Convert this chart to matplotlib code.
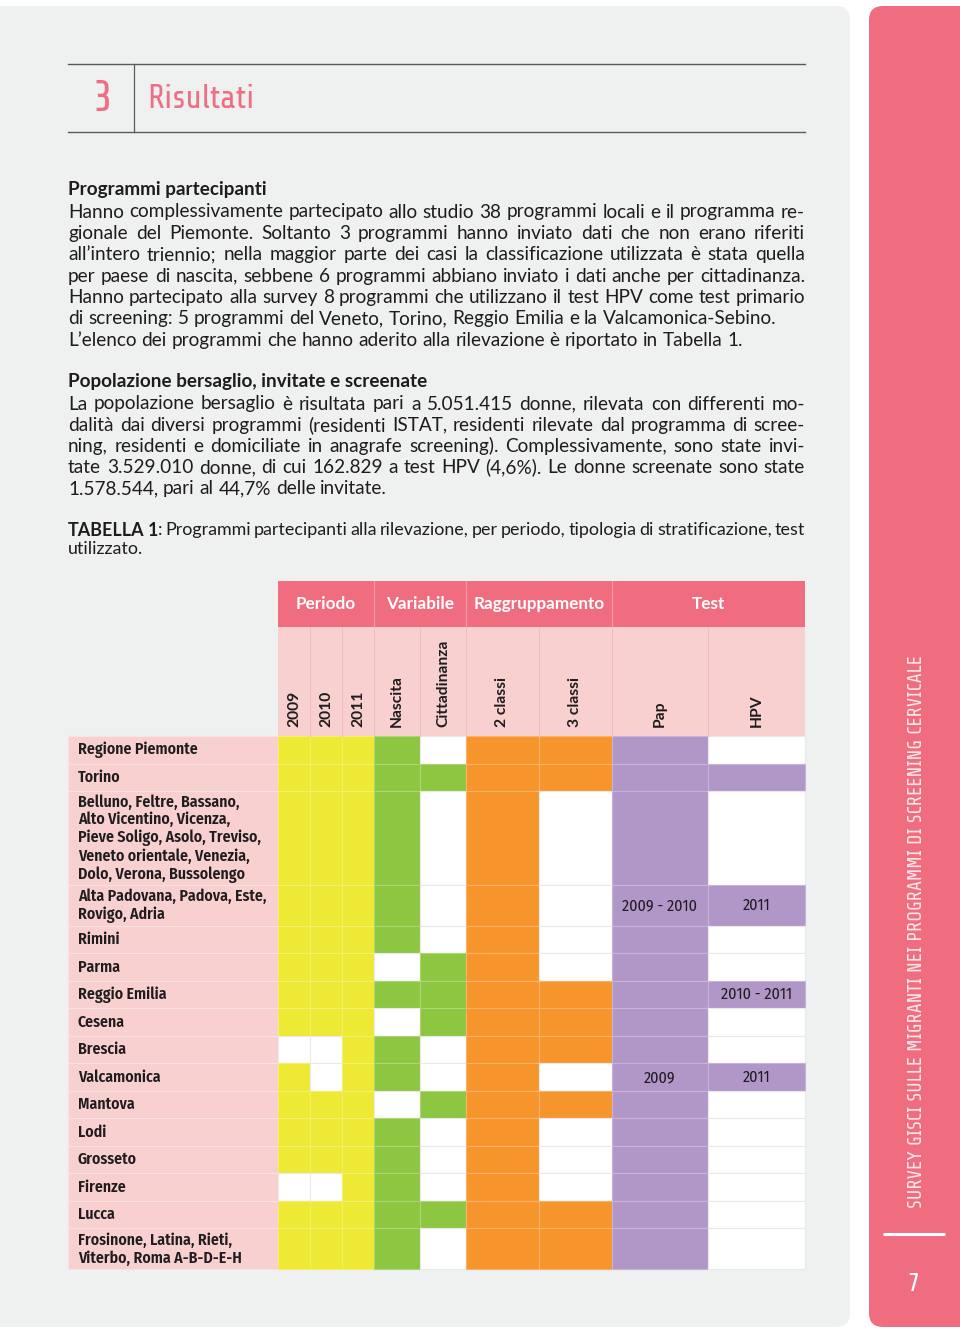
import matplotlib
matplotlib.use("Agg")
import matplotlib.pyplot as plt
import matplotlib.colors as mcolors
from matplotlib.patches import Rectangle, FancyBboxPatch

# ---- data -------------------------------------------------------------
para1 = [
    "Hanno complessivamente partecipato allo studio 38 programmi locali e il programma re-",
    "gionale del Piemonte. Soltanto 3 programmi hanno inviato dati che non erano riferiti",
    "all’intero triennio; nella maggior parte dei casi la classificazione utilizzata è stata quella",
    "per paese di nascita, sebbene 6 programmi abbiano inviato i dati anche per cittadinanza.",
    "Hanno partecipato alla survey 8 programmi che utilizzano il test HPV come test primario",
    "di screening: 5 programmi del Veneto, Torino, Reggio Emilia e la Valcamonica-Sebino.",
    "L’elenco dei programmi che hanno aderito alla rilevazione è riportato in Tabella 1.",
]
para1_justify = [1, 1, 1, 1, 1, 0, 0]

para2 = [
    "La popolazione bersaglio è risultata pari a 5.051.415 donne, rilevata con differenti mo-",
    "dalità dai diversi programmi (residenti ISTAT, residenti rilevate dal programma di scree-",
    "ning, residenti e domiciliate in anagrafe screening). Complessivamente, sono state invi-",
    "tate 3.529.010 donne, di cui 162.829 a test HPV (4,6%). Le donne screenate sono state",
    "1.578.544, pari al 44,7% delle invitate.",
]
para2_justify = [1, 1, 1, 1, 0]

caption = [
    "**TABELLA 1**: Programmi partecipanti alla rilevazione, per periodo, tipologia di stratificazione, test",
    "utilizzato.",
]
caption_justify = [1, 0]

programmi = [
    "Regione Piemonte",
    "Torino",
    "Belluno, Feltre, Bassano,\nAlto Vicentino, Vicenza,\nPieve Soligo, Asolo, Treviso,\nVeneto orientale, Venezia,\nDolo, Verona, Bussolengo",
    "Alta Padovana, Padova, Este,\nRovigo, Adria",
    "Rimini",
    "Parma",
    "Reggio Emilia",
    "Cesena",
    "Brescia",
    "Valcamonica",
    "Mantova",
    "Lodi",
    "Grosseto",
    "Firenze",
    "Lucca",
    "Frosinone, Latina, Rieti,\nViterbo, Roma A-B-D-E-H",
]

gruppi = ["Periodo", "Variabile", "Raggruppamento", "Test"]
colonne = [["2009", "2010", "2011"], ["Nascita", "Cittadinanza"],
           ["2 classi", "3 classi"], ["Pap", "HPV"]]

periodo = [[1, 1, 1], [1, 1, 1], [1, 1, 1], [1, 1, 1], [1, 1, 1], [1, 1, 1],
           [1, 1, 1], [1, 1, 1], [0, 0, 1], [1, 0, 1], [1, 1, 1], [1, 1, 1],
           [1, 1, 1], [0, 0, 1], [1, 1, 1], [1, 1, 1]]
variabile = [[1, 0], [1, 1], [1, 0], [1, 0], [1, 0], [0, 1], [1, 1], [0, 1],
             [1, 0], [1, 0], [0, 1], [1, 0], [1, 0], [1, 0], [1, 1], [1, 0]]
raggruppamento = [[1, 1], [1, 1], [1, 0], [1, 0], [1, 0], [1, 0], [1, 1], [1, 1],
                  [1, 1], [1, 0], [1, 1], [1, 0], [1, 0], [1, 0], [1, 1], [1, 1]]
test = [[1, 0], [1, 1], [1, 0], [1, 1], [1, 0], [1, 0], [1, 1], [1, 0],
        [1, 0], [1, 1], [1, 0], [1, 0], [1, 0], [1, 0], [1, 0], [1, 0]]
pap_note = ["", "", "", "2009 - 2010", "", "", "", "", "", "2009", "", "", "", "", "", ""]
hpv_note = ["", "", "", "2011", "", "", "2010 - 2011", "", "", "2011", "", "", "", "", "", ""]

# ---- style ------------------------------------------------------------
PINK = "#f06d80"
LIGHT_PINK = "#f9d0d0"
GREY = "#eff0f0"
group_colors = ["#eee934", "#8dc641", "#f7952d", "#b197c8"]
BODY = ["Lato", "Open Sans", "DejaVu Sans"]
COND = ["Fira Sans Condensed", "Roboto Condensed", "DejaVu Sans"]
TECH = ["Share Tech", "Advent Pro", "DejaVu Sans"]
TXT = "#1f1c1d"

fig = plt.figure(figsize=(9.6, 13.32), dpi=100, facecolor="white")
ax = fig.add_axes([0, 0, 1, 1])
ax.set_xlim(0, 960)
ax.set_ylim(1332, 0)
ax.axis("off")
r = fig.canvas.get_renderer()


def width_of(s, size, family, weight="normal"):
    t = ax.text(0, 0, s, fontsize=size, family=family, weight=weight)
    w = t.get_window_extent(renderer=r).width
    t.remove()
    return w


def fit(s, target, family, weight="normal"):
    return 12 * target / width_of(s, 12, family, weight)


def parse(line):
    words, bold = [], False
    for w in line.split(" "):
        pieces = []
        for i, part in enumerate(w.split("**")):
            if i > 0:
                bold = not bold
            if part:
                pieces.append((part, bold))
        words.append(pieces)
    return words


def put_line(line, x0, x1, y, size, justify):
    items, widths = [], []
    for w in parse(line):
        ws = []
        for s, b in w:
            t = ax.text(0, y, s, fontsize=size, family=BODY, color=TXT,
                        weight="bold" if b else "normal", va="center", ha="left")
            ws.append((t, t.get_window_extent(renderer=r).width))
        items.append(ws)
        widths.append(sum(wd for _, wd in ws))
    space = width_of("n n", size, BODY) - width_of("nn", size, BODY)
    gap = space
    if justify and len(items) > 1:
        gap = (x1 - x0 - sum(widths)) / (len(items) - 1)
    x = x0
    for ws in items:
        for t, wd in ws:
            t.set_x(x)
            x += wd
        x += gap


# ---- page background --------------------------------------------------
ax.add_patch(FancyBboxPatch((-40, 6), 890, 1321, boxstyle="round,pad=0,rounding_size=14",
                            fc=GREY, ec="none"))
ax.add_patch(FancyBboxPatch((869, 6), 140, 1321, boxstyle="round,pad=0,rounding_size=14",
                            fc=PINK, ec="none"))

# chapter header
ax.plot([68, 805], [64, 64], color="#5a5a5a", lw=1.0)
ax.plot([68, 805], [132, 132], color="#5a5a5a", lw=1.0)
ax.plot([134, 134], [64, 132], color="#5a5a5a", lw=0.9)
title_size = fit("Risultati", 107, TECH)
ax.text(102, 99, "3", fontsize=title_size * 1.3, family=TECH,
        color="#ee6f83", ha="center", va="center")
ax.text(147, 99, "Risultati", fontsize=title_size, family=TECH,
        color="#ee6f83", ha="left", va="center")

# side bar
side = "SURVEY GISCI SULLE MIGRANTI NEI PROGRAMMI DI SCREENING CERVICALE"
ax.text(916, 1208, side, fontsize=fit(side, 553, TECH), family=TECH, color="#fde8ea",
        rotation=90, rotation_mode="anchor", ha="left", va="center")
ax.plot([883, 945], [1234, 1234], color="white", lw=2.2, solid_capstyle="butt")
ax.text(913, 1284, "7", fontsize=19, family=TECH, color="white", ha="center", va="center")

# ---- body text --------------------------------------------------------
X0, X1 = 68, 805
body_size = fit(para1[5], 709, BODY)
head_size = fit("Programmi partecipanti", 197, BODY, "bold")
ax.text(X0, 190, "Programmi partecipanti", fontsize=head_size, family=BODY, weight="bold",
        color=TXT, va="center", ha="left")
for i, (ln, j) in enumerate(zip(para1, para1_justify)):
    put_line(ln, X0, X1, 212 + i * 21.35, body_size, j)

ax.text(X0, 382, "Popolazione bersaglio, invitate e screenate", fontsize=head_size,
        family=BODY, weight="bold", color=TXT, va="center", ha="left")
for i, (ln, j) in enumerate(zip(para2, para2_justify)):
    put_line(ln, X0, X1, 404 + i * 21.2, body_size, j)

cap_size = fit("utilizzato.", 75, BODY)
for i, (ln, j) in enumerate(zip(caption, caption_justify)):
    put_line(ln, X0, X1, 530 + i * 19.5, cap_size, j)

# ---- table ------------------------------------------------------------
col_w = [32, 32, 32, 46, 46, 72.5, 73, 96.5, 97]
TX0 = 278
edges = [TX0]
for w in col_w:
    edges.append(edges[-1] + w)
TX1 = edges[-1]

grp_size = fit("Raggruppamento", 131, BODY, "bold")
sub_size = fit("Cittadinanza", 87, BODY, "bold")
lab_size = fit("Belluno, Feltre, Bassano,", 162, COND, "semibold")
note_size = fit("2009 - 2010", 75, COND)

ax.add_patch(Rectangle((TX0, 581), TX1 - TX0, 46, fc=PINK, ec="none"))
ax.add_patch(Rectangle((TX0, 627), TX1 - TX0, 109, fc=LIGHT_PINK, ec="none"))
k = 0
for g, cols in zip(gruppi, colonne):
    a, b = edges[k], edges[k + len(cols)]
    ax.text((a + b) / 2, 604, g, fontsize=grp_size, family=BODY, weight="bold",
            color="white", ha="center", va="center")
    if k > 0:
        ax.plot([a, a], [581, 627], color="#f59aa6", lw=0.8)
    for c in cols:
        xc = (edges[k] + edges[k + 1]) / 2
        ax.text(xc, 727, c, fontsize=sub_size, family=BODY, weight="bold", color=TXT,
                rotation=90, rotation_mode="anchor", ha="left", va="center")
        if k > 0:
            ax.plot([edges[k], edges[k]], [627, 736], color="#f3bcbf", lw=0.8)
        k += 1

# rows
y = 736
data = [periodo, variabile, raggruppamento, test]
for ri, lab in enumerate(programmi):
    n = lab.count("\n") + 1
    h = 27.5 if n == 1 else 17.5 * n + 6
    ax.add_patch(Rectangle((68, y), TX0 - 68, h, fc=LIGHT_PINK, ec="#fbe2e2", lw=0.8))
    ax.text(78, y + h / 2 + 0.5, lab, fontsize=lab_size, family=COND, weight="semibold",
            color=TXT, ha="left", va="center", linespacing=1.15)
    k = 0
    for gi, grp in enumerate(data):
        for v in grp[ri]:
            if v:
                fc = group_colors[gi]
                ec = tuple(0.72 * c + 0.28 for c in mcolors.to_rgb(fc))
            else:
                fc, ec = "white", "#e9e9e9"
            ax.add_patch(Rectangle((edges[k], y), col_w[k], h, fc=fc, ec=ec, lw=0.8))
            k += 1
    for note, ci in ((pap_note[ri], 7), (hpv_note[ri], 8)):
        if note:
            ax.text((edges[ci] + edges[ci + 1]) / 2, y + h / 2 + 0.5, note,
                    fontsize=note_size, family=COND, color=TXT, ha="center", va="center")
    y += h

fig.savefig("out.png", dpi=100, facecolor="white")
